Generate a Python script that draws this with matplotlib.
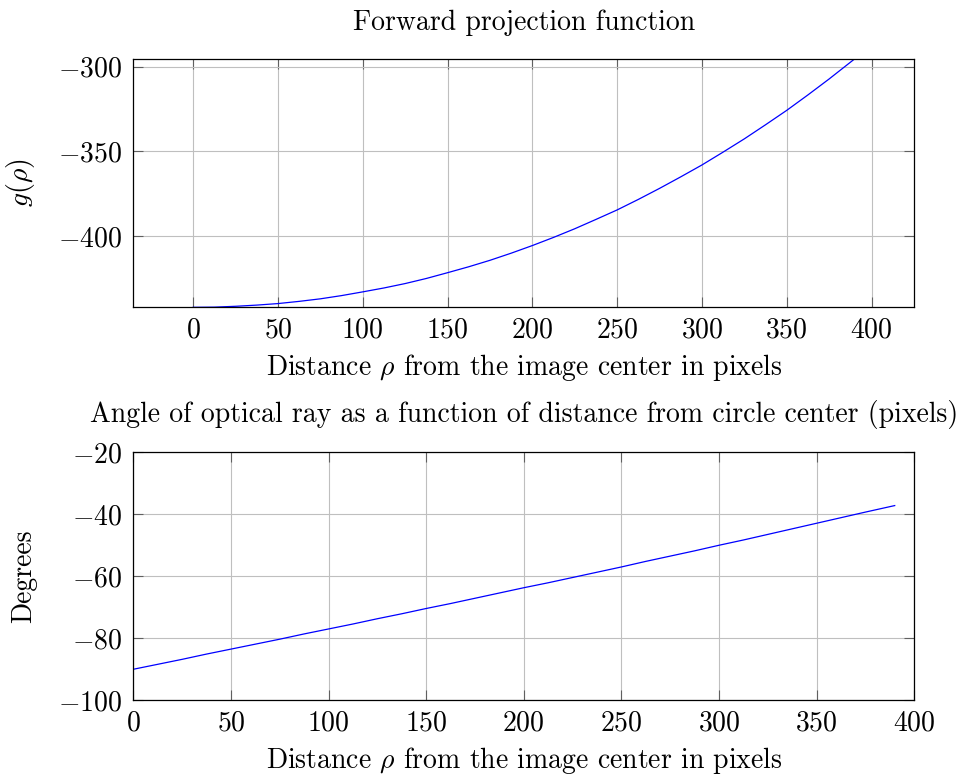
import matplotlib
matplotlib.use("Agg")
import matplotlib.pyplot as plt

plt.rcParams['font.family'] = 'serif'
plt.rcParams['font.serif'] = ['cmr10']
plt.rcParams['mathtext.fontset'] = 'cm'
plt.rcParams['axes.formatter.use_mathtext'] = True
plt.rcParams['axes.unicode_minus'] = True

# distance from the image centre (pixels)
rho = [0, 12.5, 25, 37.5, 50, 62.5, 75, 87.5, 100, 112.5, 125, 137.5, 150, 162.5,
       175, 187.5, 200, 212.5, 225, 237.5, 250, 262.5, 275, 287.5, 300, 312.5,
       325, 337.5, 350, 362.5, 375, 390]
# forward projection g(rho)
g_rho = [-441.9, -441.8, -441.3, -440.6, -439.7, -438.4, -436.9, -435.0, -432.8,
         -430.5, -427.9, -424.9, -421.5, -418.0, -414.2, -410.0, -405.5, -400.7,
         -395.6, -390.1, -384.5, -378.3, -371.8, -365.0, -358.0, -350.4, -342.6,
         -334.3, -325.8, -316.7, -307.3, -295.5]
# ray angle in degrees
angle = [-90.0, -88.4, -86.8, -85.1, -83.5, -81.9, -80.3, -78.6, -77.0, -75.4,
         -73.7, -72.1, -70.4, -68.8, -67.1, -65.4, -63.7, -62.1, -60.4, -58.7,
         -57.0, -55.2, -53.5, -51.8, -50.0, -48.3, -46.5, -44.7, -42.9, -41.1,
         -39.3, -37.2]

fs = 20
grid_col = '#bfbfbf'

fig = plt.figure(figsize=(9.65, 7.78), dpi=100)
ax1 = fig.add_axes([0.1381, 0.605, 0.8093, 0.3192])
ax2 = fig.add_axes([0.1381, 0.0999, 0.8093, 0.3188])

for ax in (ax1, ax2):
    ax.grid(True, color=grid_col, linewidth=0.8)
    ax.set_axisbelow(True)
    ax.tick_params(direction='in', length=7, width=0.8, color='#606060',
                   top=True, right=True, labelsize=fs)
    ax.tick_params(axis='y', pad=8)
    ax.tick_params(axis='x', pad=7)
    for s in ax.spines.values():
        s.set_linewidth(0.9)
        s.set_color('black')

# top: forward projection
ax1.plot(rho, g_rho, color='blue', linewidth=0.9)
ax1.set_xlim(-35.3, 425.2)
ax1.set_ylim(-441.9, -295.5)
ax1.set_xticks(range(0, 401, 50))
ax1.set_yticks([-400, -350, -300])
ax1.set_title('Forward projection function', fontsize=fs, pad=21)
ax1.set_xlabel(r'Distance $\rho$ from the image center in pixels', fontsize=fs, labelpad=6)
ax1.set_ylabel(r'$g(\rho)$', fontsize=fs, labelpad=15)

# bottom: angle of optical ray
ax2.plot(rho, angle, color='blue', linewidth=0.9)
ax2.set_xlim(0, 400)
ax2.set_ylim(-100, -20)
ax2.set_xticks(range(0, 401, 50))
ax2.set_yticks(range(-100, -19, 20))
ax2.set_title('Angle of optical ray as a function of distance from circle center (pixels)',
              fontsize=fs, pad=22)
ax2.set_xlabel(r'Distance $\rho$ from the image center in pixels', fontsize=fs, labelpad=6)
ax2.set_ylabel('Degrees', fontsize=fs, labelpad=15)

fig.savefig('out.png', dpi=100)
